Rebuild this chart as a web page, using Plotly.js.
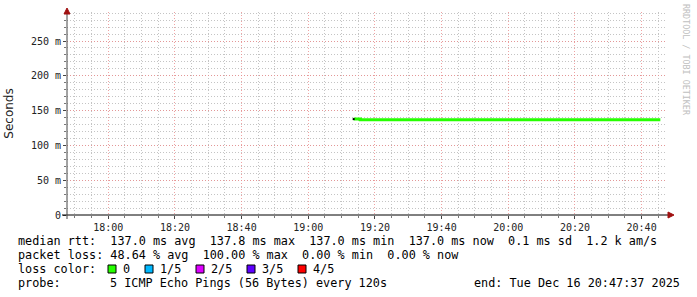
<!DOCTYPE html>
<html>
<head>
<meta charset="utf-8">
<script src="https://cdn.plot.ly/plotly-3.0.1.min.js"></script>
<style>
  html, body { margin: 0; padding: 0; background: #ffffff; }
  #chart { width: 697px; height: 297px; }
</style>
</head>
<body>
<div id="chart"></div>
<script>
// ---- data ----
var sampleTimes = [
  '2025-12-16 19:13:37','2025-12-16 19:15:37','2025-12-16 19:17:37','2025-12-16 19:19:37',
  '2025-12-16 19:21:37','2025-12-16 19:23:37','2025-12-16 19:25:37','2025-12-16 19:27:37',
  '2025-12-16 19:29:37','2025-12-16 19:31:37','2025-12-16 19:33:37','2025-12-16 19:35:37',
  '2025-12-16 19:37:37','2025-12-16 19:39:37','2025-12-16 19:41:37','2025-12-16 19:43:37',
  '2025-12-16 19:45:37','2025-12-16 19:47:37','2025-12-16 19:49:37','2025-12-16 19:51:37',
  '2025-12-16 19:53:37','2025-12-16 19:55:37','2025-12-16 19:57:37','2025-12-16 19:59:37',
  '2025-12-16 20:01:37','2025-12-16 20:03:37','2025-12-16 20:05:37','2025-12-16 20:07:37',
  '2025-12-16 20:09:37','2025-12-16 20:11:37','2025-12-16 20:13:37','2025-12-16 20:15:37',
  '2025-12-16 20:17:37','2025-12-16 20:19:37','2025-12-16 20:21:37','2025-12-16 20:23:37',
  '2025-12-16 20:25:37','2025-12-16 20:27:37','2025-12-16 20:29:37','2025-12-16 20:31:37',
  '2025-12-16 20:33:37','2025-12-16 20:35:37','2025-12-16 20:37:37','2025-12-16 20:39:37',
  '2025-12-16 20:41:37','2025-12-16 20:43:37','2025-12-16 20:45:37'
];
var medianRtt = [
  0.1378,0.1370,0.1370,0.1370,0.1370,0.1370,0.1370,0.1370,
  0.1370,0.1370,0.1370,0.1370,0.1370,0.1370,0.1370,0.1370,
  0.1370,0.1370,0.1370,0.1370,0.1370,0.1370,0.1370,0.1370,
  0.1370,0.1370,0.1370,0.1370,0.1370,0.1370,0.1370,0.1370,
  0.1370,0.1370,0.1370,0.1370,0.1370,0.1370,0.1370,0.1370,
  0.1370,0.1370,0.1370,0.1370,0.1370,0.1370,0.1370
];
var yTickVals = [0, 0.05, 0.10, 0.15, 0.20, 0.25];
var yTickText = ['0', '50 m', '100 m', '150 m', '200 m', '250 m'];
var lossLabels = ['0', '1/5', '2/5', '3/5', '4/5'];
var lossColors = ['#26ff00', '#00b8ff', '#dd00ff', '#5e00ff', '#ff0000'];
var legendLines = [
  'median rtt:  137.0 ms avg  137.8 ms max  137.0 ms min  137.0 ms now  0.1 ms sd  1.2 k am/s',
  'packet loss: 48.64 % avg  100.00 % max  0.00 % min  0.00 % now'
];
var probeLabel = 'probe:';
var probeText = '5 ICMP Echo Pings (56 Bytes) every 120s';
var endText = 'end: Tue Dec 16 20:47:37 2025';
var lossTitle = 'loss color:';
var watermark = 'RRDTOOL / TOBI OETIKER';

// ---- geometry helpers (pixel -> paper) ----
var L = 67, T = 12, W = 600, H = 203;
function px(x) { return (x - L) / W; }
function py(y) { return (T + H - y) / H; }
function nb(s) { return s.replace(/ /g, '\u00A0'); }

var mono = 'DejaVu Sans Mono, monospace';
var legFont = { family: mono, size: 11.8, color: '#000' };

var traces = [{
  x: sampleTimes,
  y: medianRtt,
  type: 'scatter',
  mode: 'lines',
  line: { color: '#26ff00', width: 3, shape: 'hv' },
  hoverinfo: 'skip',
  showlegend: false
}, {
  x: sampleTimes.slice(0, 1),
  y: medianRtt.slice(0, 1),
  type: 'scatter',
  mode: 'markers',
  marker: { color: '#000000', size: 2, symbol: 'square' },
  hoverinfo: 'skip',
  showlegend: false
}];

var annotations = [];
var shapes = [];

var lineY = [241, 255, 269, 283];
legendLines.forEach(function (t, i) {
  annotations.push({
    xref: 'paper', yref: 'paper', x: px(16), y: py(lineY[i]),
    xanchor: 'left', yanchor: 'middle', showarrow: false,
    text: nb(t), font: legFont
  });
});
annotations.push({
  xref: 'paper', yref: 'paper', x: px(16), y: py(lineY[2]),
  xanchor: 'left', yanchor: 'middle', showarrow: false,
  text: nb(lossTitle), font: legFont
});
var squareX = [108, 145, 196, 247, 298];
lossLabels.forEach(function (lab, i) {
  shapes.push({
    type: 'rect', xref: 'paper', yref: 'paper',
    x0: px(squareX[i]), x1: px(squareX[i] + 8),
    y0: py(lineY[2] + 4), y1: py(lineY[2] - 4),
    fillcolor: lossColors[i], line: { color: '#000', width: 1 }
  });
  annotations.push({
    xref: 'paper', yref: 'paper', x: px(squareX[i] + 13), y: py(lineY[2]),
    xanchor: 'left', yanchor: 'middle', showarrow: false,
    text: lab, font: legFont
  });
});
annotations.push({
  xref: 'paper', yref: 'paper', x: px(16), y: py(lineY[3]),
  xanchor: 'left', yanchor: 'middle', showarrow: false,
  text: probeLabel, font: legFont
});
annotations.push({
  xref: 'paper', yref: 'paper', x: px(108), y: py(lineY[3]),
  xanchor: 'left', yanchor: 'middle', showarrow: false,
  text: nb(probeText), font: legFont
});
annotations.push({
  xref: 'paper', yref: 'paper', x: px(682), y: py(lineY[3]),
  xanchor: 'right', yanchor: 'middle', showarrow: false,
  text: nb(endText), font: legFont
});
annotations.push({
  xref: 'paper', yref: 'paper', x: px(686), y: py(60),
  xanchor: 'center', yanchor: 'middle', showarrow: false, textangle: 90,
  text: nb(watermark), font: { family: mono, size: 8.4, color: '#c0c0c0' }
});

// axis lines (extended) and arrows
shapes.push({ type: 'line', xref: 'paper', yref: 'paper',
  x0: px(62), x1: px(669), y0: 0, y1: 0, line: { color: '#000', width: 1 } });
shapes.push({ type: 'line', xref: 'paper', yref: 'paper',
  x0: 0, x1: 0, y0: py(219), y1: py(12), line: { color: '#444', width: 1 } });
shapes.push({ type: 'path', xref: 'paper', yref: 'paper',
  xsizemode: 'pixel', ysizemode: 'pixel', xanchor: 0, yanchor: py(14),
  path: 'M-3,0 L3,0 L0,6 Z', fillcolor: '#a01010', line: { color: '#a01010', width: 1 } });
shapes.push({ type: 'path', xref: 'paper', yref: 'paper',
  xsizemode: 'pixel', ysizemode: 'pixel', xanchor: px(668), yanchor: 0,
  path: 'M0,-3 L0,3 L6,0 Z', fillcolor: '#a01010', line: { color: '#a01010', width: 1 } });

var majorGrid = 'rgba(235,140,140,0.8)';
var minorGrid = '#c4c4c4';
var gridDash = '1px,2px';

var layout = {
  width: 697, height: 297,
  margin: { l: 67, r: 30, t: 12, b: 82, pad: 0 },
  paper_bgcolor: '#ffffff', plot_bgcolor: '#ffffff',
  showlegend: false,
  xaxis: {
    type: 'date',
    range: ['2025-12-16 17:47:37', '2025-12-16 20:47:37'],
    tick0: '2025-12-16 18:00:00', dtick: 1200000,
    tickformat: '%H:%M',
    showgrid: true, gridcolor: majorGrid, griddash: gridDash, gridwidth: 1,
    minor: { dtick: 300000, showgrid: true, gridcolor: minorGrid, griddash: gridDash,
             ticks: 'outside', ticklen: 2, tickcolor: '#777' },
    ticks: 'outside', ticklen: 3, tickcolor: '#444',
    showline: false, zeroline: false,
    tickfont: { family: mono, size: 10, color: '#222' },
    fixedrange: true
  },
  yaxis: {
    range: [0, 0.2917],
    tickvals: yTickVals, ticktext: yTickText,
    showgrid: true, gridcolor: majorGrid, griddash: gridDash, gridwidth: 1,
    minor: { dtick: 0.01, showgrid: true, gridcolor: minorGrid, griddash: gridDash,
             ticks: 'outside', ticklen: 2, tickcolor: '#777' },
    ticks: 'outside', ticklen: 3, tickcolor: '#444',
    showline: false, zeroline: false,
    tickfont: { family: mono, size: 10, color: '#222' },
    title: { text: 'Seconds', font: { family: 'DejaVu Sans, sans-serif', size: 12, color: '#222' }, standoff: 14 },
    fixedrange: true
  },
  annotations: annotations,
  shapes: shapes
};

Plotly.newPlot('chart', traces, layout, { staticPlot: true, displayModeBar: false });
</script>
</body>
</html>
